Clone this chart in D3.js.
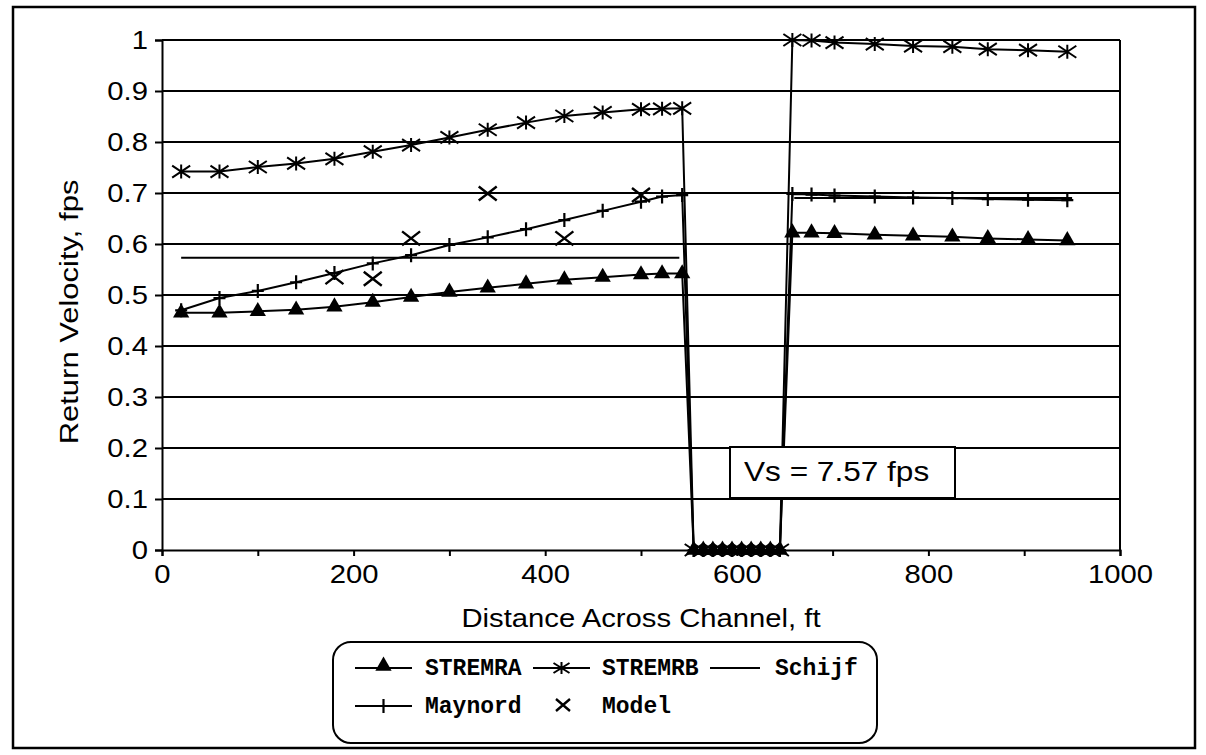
<!DOCTYPE html>
<html><head><meta charset="utf-8">
<script src="https://cdn.jsdelivr.net/npm/d3@7"></script>
<style>body{margin:0;background:#fff}svg{display:block}</style>
</head><body>
<script>
// ---- data ----
const xLeft = [20,60,100,140,180,220,260,300,340,380,420,460,500,522,543];
const xChannel = [555,565,575,585,595,605,615,625,635,645];
const xRight = [658,678,702,744,784,825,862,904,945];

const stremraLeft = [0.465,0.465,0.468,0.471,0.477,0.486,0.496,0.506,0.514,0.522,0.530,0.535,0.540,0.542,0.542];
const stremraRight = [0.622,0.622,0.621,0.618,0.616,0.614,0.611,0.609,0.607];
const stremrbLeft = [0.742,0.742,0.751,0.758,0.767,0.781,0.794,0.809,0.824,0.838,0.851,0.858,0.864,0.865,0.866];
const stremrbRight = [1.000,0.999,0.995,0.992,0.988,0.987,0.982,0.980,0.977];
const maynordLeft = [0.470,0.494,0.508,0.525,0.543,0.562,0.578,0.598,0.613,0.629,0.647,0.665,0.683,0.693,0.696];
const maynordRight = [0.698,0.697,0.695,0.693,0.691,0.690,0.688,0.687,0.686];
const channelValues = [0,0,0,0,0,0,0,0,0,0];

const schijfX = [20,540,600,660,950];
const schijfY = [0.573,0.573,null,0.690,0.690];

const modelX = [180,220,260,340,420,500];
const modelY = [0.535,0.532,0.611,0.699,0.611,0.696];

const yTicks = [0,0.1,0.2,0.3,0.4,0.5,0.6,0.7,0.8,0.9,1];
const xTicks = [0,100,200,300,400,500,600,700,800,900,1000];
const xLabelTicks = [0,200,400,600,800,1000];

const seriesNames = ["STREMRA","STREMRB","Schijf","Maynord","Model"];
const annotation = "Vs = 7.57 fps";

// ---- build ----
const W = 1206, H = 755;
const svg = d3.select("body").append("svg").attr("width", W).attr("height", H);
const x = d3.scaleLinear().domain([0,1000]).range([162,1120]);
const y = d3.scaleLinear().domain([0,1]).range([550,40]);
const sans = "'Liberation Sans', Arial, sans-serif";
const mono = "'Liberation Mono', 'Courier New', monospace";
const SX = 1.17; // horizontal stretch of the scanned lettering

// outer frame
svg.append("rect").attr("x",13).attr("y",7).attr("width",1182).attr("height",741)
  .attr("fill","none").attr("stroke","#000").attr("stroke-width",2.5);

// gridlines
svg.append("g").selectAll("line").data(yTicks.filter(d=>d>0)).join("line")
  .attr("x1",x(0)).attr("x2",x(1000)).attr("y1",d=>y(d)).attr("y2",d=>y(d))
  .attr("stroke","#000").attr("stroke-width",2);
// right border
svg.append("line").attr("x1",x(1000)).attr("x2",x(1000)).attr("y1",y(1)).attr("y2",y(0))
  .attr("stroke","#000").attr("stroke-width",2);

// axes
const yAxis = svg.append("g").attr("transform",`translate(${x(0)},0)`)
  .call(d3.axisLeft(y).tickValues(yTicks).tickSize(7).tickPadding(5).tickFormat(d=>String(+d.toFixed(1))));
const xAxis = svg.append("g").attr("transform",`translate(0,${y(0)})`)
  .call(d3.axisBottom(x).tickValues(xTicks).tickSize(6).tickPadding(9).tickFormat(d=>xLabelTicks.includes(d)?String(d):""));
[yAxis,xAxis].forEach(g=>{
  g.select(".domain").attr("stroke","#000").attr("stroke-width",2);
  g.selectAll(".tick line").attr("stroke","#000").attr("stroke-width",2);
  g.selectAll(".tick text").attr("fill","#000").style("font-family",sans).style("font-size","25px")
    .attr("transform",`scale(${SX},1)`);
});

// axis titles
svg.append("text").attr("transform",`translate(78,312) rotate(-90) scale(1.24,1)`)
  .attr("text-anchor","middle").style("font-family",sans).style("font-size","25px").text("Return Velocity, fps");
svg.append("text").attr("transform",`translate(${(x(0)+x(1000))/2},627) scale(${SX},1)`)
  .attr("text-anchor","middle").style("font-family",sans).style("font-size","25px").text("Distance Across Channel, ft");

// series
const fullA = [...stremraLeft, ...channelValues, ...stremraRight];
const fullB = [...stremrbLeft, ...channelValues, ...stremrbRight];
const fullM = [...maynordLeft, ...channelValues, ...maynordRight];
const xsFull = [...xLeft, ...xChannel, ...xRight];
const seriesA = xsFull.map((d,i)=>({x:d,y:fullA[i]}));
const seriesB = xsFull.map((d,i)=>({x:d,y:fullB[i]}));
const seriesM = xsFull.map((d,i)=>({x:d,y:fullM[i]}));
const seriesS = schijfX.map((d,i)=>({x:d,y:schijfY[i]}));
const seriesX = modelX.map((d,i)=>({x:d,y:modelY[i]}));

const line = d3.line().defined(d=>d.y!==null).x(d=>x(d.x)).y(d=>y(d.y));
const lineG = svg.append("g").attr("fill","none").attr("stroke","#000").attr("stroke-width",2);
[seriesS, seriesM, seriesA, seriesB].forEach(s=>lineG.append("path").attr("d",line(s)));

// markers
const triangle = d3.symbol().type(d3.symbolTriangle).size(115);
function drawTri(g,cx,cy){ g.append("path").attr("d",triangle()).attr("transform",`translate(${cx},${cy})`).attr("fill","#000"); }
function drawStar(g,cx,cy,a,b){
  g.append("path").attr("d",`M${cx-a},${cy-b}L${cx+a},${cy+b}M${cx-a},${cy+b}L${cx+a},${cy-b}M${cx},${cy-b-1}L${cx},${cy+b+1}`)
    .attr("stroke","#000").attr("stroke-width",2).attr("fill","none");
}
function drawPlus(g,cx,cy,rx,ry){
  g.append("path").attr("d",`M${cx-rx},${cy}L${cx+rx},${cy}M${cx},${cy-ry}L${cx},${cy+ry}`)
    .attr("stroke","#000").attr("stroke-width",2.2).attr("fill","none");
}
function drawX(g,cx,cy,rx,ry){
  g.append("path").attr("d",`M${cx-rx},${cy-ry}L${cx+rx},${cy+ry}M${cx-rx},${cy+ry}L${cx+rx},${cy-ry}`)
    .attr("stroke","#000").attr("stroke-width",2.4).attr("fill","none");
}
const mk = svg.append("g");
seriesM.forEach(d=>drawPlus(mk,x(d.x),y(d.y),6,7));
seriesA.forEach(d=>drawTri(mk,x(d.x),y(d.y)));
seriesB.forEach(d=>drawStar(mk,x(d.x),y(d.y),9,6));
seriesX.forEach(d=>drawX(mk,x(d.x),y(d.y),9,7));

// annotation
svg.append("rect").attr("x",730).attr("y",447).attr("width",225).attr("height",51)
  .attr("fill","#fff").attr("stroke","#000").attr("stroke-width",2);
svg.append("text").attr("transform",`translate(744,481) scale(${SX},1)`)
  .style("font-family",sans).style("font-size","27px").text(annotation);

// legend
const lg = svg.append("g");
lg.append("rect").attr("x",333).attr("y",642).attr("width",544).attr("height",101).attr("rx",18)
  .attr("fill","#fff").attr("stroke","#000").attr("stroke-width",2);
const legendItems = [
  {name:seriesNames[0], lx:355, lw:57, ty:668, tx:425, m:"tri"},
  {name:seriesNames[1], lx:533, lw:57, ty:668, tx:602, m:"star"},
  {name:seriesNames[2], lx:710, lw:50, ty:668, tx:775, m:"none"},
  {name:seriesNames[3], lx:355, lw:57, ty:706, tx:425, m:"plus"},
  {name:seriesNames[4], lx:553, lw:20, ty:706, tx:602, m:"x"}
];
legendItems.forEach(it=>{
  if(it.m!=="x") lg.append("line").attr("x1",it.lx).attr("x2",it.lx+it.lw).attr("y1",it.ty).attr("y2",it.ty)
    .attr("stroke","#000").attr("stroke-width",2);
  const cx = it.lx+it.lw/2;
  if(it.m==="tri") drawTri(lg,cx,it.ty-2);
  if(it.m==="star") drawStar(lg,cx,it.ty,8,5);
  if(it.m==="plus") drawPlus(lg,cx,it.ty,6,7);
  if(it.m==="x") drawX(lg,cx,it.ty-1,7,6);
  lg.append("text").attr("x",it.tx).attr("y",it.ty+7).style("font-family",mono).style("font-size","23px")
    .style("font-weight","bold").text(it.name);
});
</script>
</body></html>
